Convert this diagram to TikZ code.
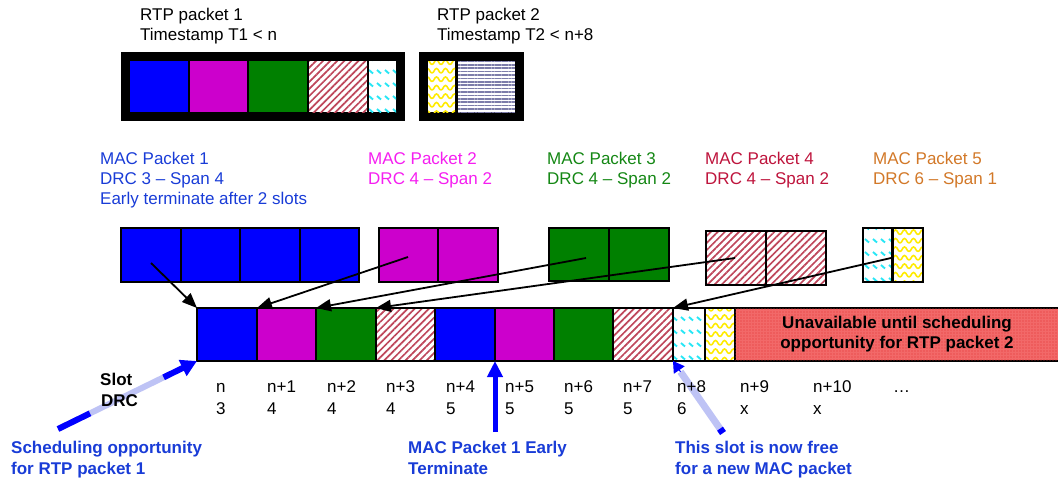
\documentclass[tikz,border=0pt]{standalone}
\usepackage{fontspec}
\setmainfont{Liberation Sans}
\usetikzlibrary{arrows.meta,patterns,patterns.meta,calc}

% wavy yellow fill
\pgfdeclarepatternformonly{wavy}{\pgfqpoint{-1pt}{-1pt}}{\pgfqpoint{10pt}{9.5pt}}{\pgfqpoint{9pt}{8.5pt}}{
  \pgfsetlinewidth{1.6pt}
  \pgfpathmoveto{\pgfqpoint{0pt}{2pt}}
  \pgfpathcurveto{\pgfqpoint{2.2pt}{2pt}}{\pgfqpoint{2.3pt}{6.5pt}}{\pgfqpoint{4.5pt}{6.5pt}}
  \pgfpathcurveto{\pgfqpoint{6.7pt}{6.5pt}}{\pgfqpoint{6.8pt}{2pt}}{\pgfqpoint{9pt}{2pt}}
  \pgfusepath{stroke}
}
% rows of short slanted cyan dashes
\pgfdeclarepatternformonly{dashy}{\pgfqpoint{-1pt}{-1pt}}{\pgfqpoint{9pt}{14pt}}{\pgfqpoint{8pt}{13pt}}{
  \pgfsetlinewidth{1.9pt}
  \pgfpathmoveto{\pgfqpoint{1pt}{10pt}}\pgfpathlineto{\pgfqpoint{5pt}{6.5pt}}
  \pgfusepath{stroke}
}

\definecolor{cblue}{RGB}{0,0,255}
\definecolor{cmag}{RGB}{204,0,204}
\definecolor{cgreen}{RGB}{0,128,0}
\definecolor{chatch}{RGB}{190,70,90}
\definecolor{ccyan}{RGB}{40,230,245}
\definecolor{cyel}{RGB}{255,235,0}
\definecolor{cgrey}{RGB}{125,125,170}
\definecolor{cunav}{RGB}{242,105,105}
\definecolor{cunavdot}{RGB}{225,50,50}
\definecolor{tblue}{RGB}{25,60,215}
\definecolor{tmag}{RGB}{245,30,240}
\definecolor{tgreen}{RGB}{20,135,20}
\definecolor{tred}{RGB}{190,20,60}
\definecolor{torange}{RGB}{210,120,40}
\definecolor{clight}{RGB}{190,195,245}

\tikzset{
  cellb/.style={draw=black, line width=1.5pt, inner sep=0pt, outer sep=0pt},
  plain/.style={inner sep=0pt, outer sep=0pt},
  fblue/.style={fill=cblue},
  fmag/.style={fill=cmag},
  fgreen/.style={fill=cgreen},
  hatch/.style={pattern={Lines[angle=45,distance=5pt,line width=1.7pt]}, pattern color=chatch},
  cyanpat/.style={pattern=dashy, pattern color=ccyan},
  yelpat/.style={pattern=wavy, pattern color=cyel},
  greypat/.style={pattern={Lines[angle=0,distance=3.4pt,line width=1.5pt]}, pattern color=cgrey},
  unav/.style={fill=cunav, postaction={pattern={Dots[distance=3pt,radius=0.6pt]}, pattern color=cunavdot}},
  lbl/.style={anchor=base west, inner sep=0pt, font=\fontsize{17}{20}\selectfont, align=left},
  blbl/.style={anchor=base west, inner sep=0pt, font=\fontsize{17}{21}\selectfont\bfseries, align=left},
  num/.style={anchor=base west, inner sep=0pt, font=\fontsize{17}{20}\selectfont},
  conn/.style={draw=black, line width=1.8pt, -{Triangle[length=15pt,width=12pt]}},
}

% \cellbox{name}{x1}{y1}{x2}{y2}{style}{text}
\newcommand\cellbox[7]{\node[#6, anchor=north west, minimum width={(#4-#2)*1pt}, minimum height={(#5-#3)*1pt}] (#1) at (#2,#3) {#7};}

\begin{document}
\begin{tikzpicture}[x=1pt,y=-1pt]
\useasboundingbox (0,0) rectangle (1058,483);
\clip (0,0) rectangle (1058,483);

% RTP packets (multi-line labels are placed by the baseline of their last line)
\node[lbl] (rtp1) at (140,40) {RTP packet 1\\Timestamp T1 < n};
\node[lbl] (rtp2) at (437,40) {RTP packet 2\\Timestamp T2 < n+8};
\cellbox{f1}{121}{52}{405}{121}{plain, fill=black}{}
\cellbox{t1}{130}{61}{188}{112}{plain, fblue}{}
\cellbox{t2}{190}{61}{247}{112}{plain, fmag}{}
\cellbox{t3}{249}{61}{307}{112}{plain, fgreen}{}
\cellbox{t4}{309}{61}{367}{112}{plain, fill=white, postaction={hatch}}{}
\cellbox{t5}{369}{61}{396}{112}{plain, fill=white, postaction={cyanpat}}{}
\cellbox{f2}{419}{52}{524}{121}{plain, fill=black}{}
\cellbox{u1}{428}{61}{455}{112}{plain, fill=white, postaction={yelpat}}{}
\cellbox{u2}{458}{61}{515}{112}{plain, fill=white, postaction={greypat}}{}

% MAC packet labels
\node[lbl, text=tblue] (lm1) at (100,204) {MAC Packet 1\\DRC 3 -- Span 4\\Early terminate after 2 slots};
\node[lbl, text=tmag] (lm2) at (368,184) {MAC Packet 2\\DRC 4 -- Span 2};
\node[lbl, text=tgreen] (lm3) at (547,184) {MAC Packet 3\\DRC 4 -- Span 2};
\node[lbl, text=tred] (lm4) at (705,184) {MAC Packet 4\\DRC 4 -- Span 2};
\node[lbl, text=torange] (lm5) at (873,184) {MAC Packet 5\\DRC 6 -- Span 1};

% MAC packets
\cellbox{m1a}{121}{228}{181}{282}{cellb, fblue}{}
\cellbox{m1b}{181}{228}{240}{282}{cellb, fblue}{}
\cellbox{m1c}{240}{228}{300}{282}{cellb, fblue}{}
\cellbox{m1d}{300}{228}{359}{282}{cellb, fblue}{}
\cellbox{m2a}{379}{228}{438}{282}{cellb, fmag}{}
\cellbox{m2b}{438}{228}{498}{282}{cellb, fmag}{}
\cellbox{m3a}{549}{228}{609}{281}{cellb, fgreen}{}
\cellbox{m3b}{609}{228}{669}{281}{cellb, fgreen}{}
\cellbox{m4a}{706}{231}{766}{285}{cellb, hatch}{}
\cellbox{m4b}{766}{231}{826}{285}{cellb, hatch}{}
\cellbox{m5a}{863}{228}{892}{282}{cellb, cyanpat}{}
\cellbox{m5b}{892}{228}{923}{282}{cellb, yelpat}{}
\draw[line width=3pt] (m5a.north east) -- (m5a.south east);

% slot row
\cellbox{s0}{197}{308}{257}{361}{cellb, fblue}{}
\cellbox{s1}{257}{308}{316}{361}{cellb, fmag}{}
\cellbox{s2}{316}{308}{376}{361}{cellb, fgreen}{}
\cellbox{s3}{376}{308}{435}{361}{cellb, hatch}{}
\cellbox{s4}{435}{308}{495}{361}{cellb, fblue}{}
\cellbox{s5}{495}{308}{554}{361}{cellb, fmag}{}
\cellbox{s6}{554}{308}{613}{361}{cellb, fgreen}{}
\cellbox{s7}{613}{308}{673}{361}{cellb, hatch}{}
\cellbox{s8}{673}{308}{705}{361}{cellb, cyanpat}{}
\cellbox{s9}{705}{308}{735}{361}{cellb, yelpat}{}
\cellbox{s10}{735}{308}{1059}{361}{cellb, unav, align=center, font=\fontsize{17}{20}\selectfont\bfseries}{Unavailable until scheduling\\opportunity for RTP packet 2}

% packet to slot connectors
\coordinate (a1) at (151,263);
\coordinate (a2) at (408,257);
\coordinate (a3) at (586,258);
\coordinate (a4) at (735,258);
\coordinate (a5) at (891,258);
\draw[conn] (a1) -- (s0.north west);
\draw[conn] (a2) -- (s1.north west);
\draw[conn] (a3) -- (s2.north west);
\draw[conn] (a4) -- (s3.north west);
\draw[conn] (a5) -- (s8.north west);

% scheduling opportunity arrow
\coordinate (sch) at (58,429);
\draw[line width=6pt, clight] (sch) -- ($(sch)!0.8!(s0.south west)$);
\draw[line width=6pt, cblue] (sch) -- ($(sch)!0.23!(s0.south west)$);
\draw[line width=6pt, cblue, -{Triangle[length=16pt,width=17pt]}] ($(sch)!0.76!(s0.south west)$) -- (s0.south west);

% early terminate arrow
\coordinate (et) at (495,432);
\draw[line width=5pt, cblue, -{Triangle[length=16pt,width=15pt]}] (et) -- (s5.south west);

% freed slot arrow
\coordinate (fr) at (723,433);
\draw[line width=7pt, clight] (fr) -- ($(fr)!0.85!(s8.south west)$);
\draw[line width=7pt, cblue] (fr) -- ($(fr)!0.06!(s8.south west)$);
\draw[line width=1pt, cblue, -{Triangle[length=11pt,width=13pt]}] ($(s8.south west)!0.15!(fr)$) -- (s8.south west);

% slot numbers and DRC values
\node[blbl] (slot) at (100,385) {Slot};
\node[blbl] (drc) at (101,406) {DRC};
\foreach \x/\n/\d [count=\i] in {216/n/3, 267/n+1/4, 327/n+2/4, 386/n+3/4, 446/n+4/5, 505/n+5/5, 564/n+6/5, 623/n+7/5, 677/n+8/6, 740/n+9/x, 813/n+10/x}{
  \node[num] (n\i) at (\x,392) {\n};
  \node[num] (d\i) at (\x,414) {\d};
}
\node[num] (dots) at (893,392) {\dots};

% bottom annotations
\node[blbl, text=tblue] (ann1) at (11,474) {Scheduling opportunity\\for RTP packet 1};
\node[blbl, text=tblue] (ann2) at (408,474) {MAC Packet 1 Early\\Terminate};
\node[blbl, text=tblue] (ann3) at (675,474) {This slot is now free\\for a new MAC packet};
\end{tikzpicture}
\end{document}
